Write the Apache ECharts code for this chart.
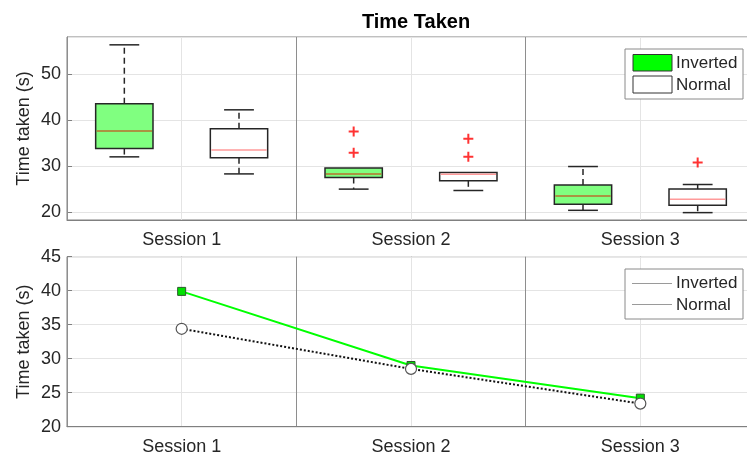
<!DOCTYPE html>
<html>
<head>
<meta charset="utf-8">
<script src="https://cdn.jsdelivr.net/npm/echarts@6/dist/echarts.min.js"></script>
<style>
  html, body { margin: 0; padding: 0; background: #fff; overflow: hidden; }
  #chart { width: 755px; height: 459px; }
</style>
</head>
<body>
<div id="chart"></div>
<script>
// ---------- data ----------
const sessions = ['Session 1', 'Session 2', 'Session 3'];
const boxSlots = ['S1 Inverted', 'S1 Normal', 'S2 Inverted', 'S2 Normal', 'S3 Inverted', 'S3 Normal'];
// [min, q1, median, q3, max]
const invertedBox = [
  [32.0, 33.8, 37.6, 43.5, 56.3],
  [25.0, 27.5, 28.3, 29.6, 29.6],
  [20.4, 21.7, 23.5, 25.9, 29.9]
];
const normalBox = [
  [28.3, 31.8, 33.5, 38.1, 42.2],
  [24.7, 26.8, 28.2, 28.6, 28.6],
  [19.9, 21.5, 22.8, 25.0, 26.0]
];
const invertedOutliers = [[], [37.5, 32.9], []];
const normalOutliers = [[], [35.9, 32.0], [30.8]];
const invertedMean = [39.9, 29.0, 24.2];
const normalMean = [34.4, 28.5, 23.4];
const legendNames = ['Inverted', 'Normal'];
const yName = 'Time taken (s)';
const titleText = 'Time Taken';

// ---------- styling ----------
const FONT = "'Liberation Sans', Arial, Helvetica, sans-serif";
const TXT = '#262626';
const AX = '#808080';
const GRIDC = '#e4e4e4';
const DARKV = '#8e8e8e';

function boxRenderer(fill, medianColor) {
  return function (params, api) {
    const x = api.value(0);
    const c = v => api.coord([x, v]);
    const pMin = c(api.value(1)), pQ1 = c(api.value(2)), pMed = c(api.value(3)),
          pQ3 = c(api.value(4)), pMax = c(api.value(5));
    const band = api.size([1, 0])[0];
    const hw = band * 0.25, cap = band * 0.13;
    const cx = pMed[0];
    const stroke = '#262626';
    const ch = [];
    const hasUpper = Math.abs(pMax[1] - pQ3[1]) > 0.5;
    if (hasUpper) {
      ch.push({ type: 'line', shape: { x1: cx, y1: pQ3[1], x2: cx, y2: pMax[1] },
        style: { stroke, lineWidth: 1.5, lineDash: [6, 4] } });
      ch.push({ type: 'line', shape: { x1: cx - cap, y1: pMax[1], x2: cx + cap, y2: pMax[1] },
        style: { stroke, lineWidth: 1.5 } });
    }
    ch.push({ type: 'line', shape: { x1: cx, y1: pQ1[1], x2: cx, y2: pMin[1] },
      style: { stroke, lineWidth: 1.5, lineDash: [6, 4] } });
    ch.push({ type: 'line', shape: { x1: cx - cap, y1: pMin[1], x2: cx + cap, y2: pMin[1] },
      style: { stroke, lineWidth: 1.5 } });
    ch.push({ type: 'rect', shape: { x: cx - hw, y: pQ3[1], width: 2 * hw, height: pQ1[1] - pQ3[1] },
      style: { fill, stroke, lineWidth: 1.5 } });
    ch.push({ type: 'line', shape: { x1: cx - hw + 1, y1: pMed[1], x2: cx + hw - 1, y2: pMed[1] },
      style: { stroke: medianColor, lineWidth: 1.5 } });
    return { type: 'group', children: ch };
  };
}

const invBoxData = invertedBox.map((b, i) => [2 * i].concat(b));
const normBoxData = normalBox.map((b, i) => [2 * i + 1].concat(b));
const outlierData = [];
invertedOutliers.forEach((arr, i) => arr.forEach(v => outlierData.push([2 * i, v])));
normalOutliers.forEach((arr, i) => arr.forEach(v => outlierData.push([2 * i + 1, v])));

const plusPath = 'path://M4,0h2v4h4v2h-4v4h-2v-4h-4v-2h4z';

function gridAxes(gridIndex, showLabels) {
  return [
    { // 6-slot axis: axis line + vertical grid lines
      type: 'category', gridIndex, position: 'bottom', data: boxSlots,
      boundaryGap: true,
      axisLine: { show: true, lineStyle: { color: AX, width: 1 } },
      axisTick: { show: false }, axisLabel: { show: false },
      splitLine: { show: true, lineStyle: { color: [DARKV, GRIDC], width: 1 } },
      z: 1
    },
    { // session labels
      type: 'category', gridIndex, position: 'bottom', data: sessions,
      boundaryGap: true,
      axisLine: { show: false },
      axisTick: { show: true, inside: true, alignWithLabel: true, length: 5, lineStyle: { color: AX } },
      axisLabel: { show: showLabels, fontSize: 18, color: TXT, fontFamily: FONT, margin: 11 },
      splitLine: { show: false }
    },
    { // top ticks
      type: 'category', gridIndex, position: 'top', data: sessions,
      boundaryGap: true,
      axisLine: { show: false },
      axisTick: { show: true, inside: true, alignWithLabel: true, length: 5, lineStyle: { color: AX } },
      axisLabel: { show: false },
      splitLine: { show: false }
    }
  ];
}

function yAxisFor(gridIndex, min, max, interval) {
  const o = {
    type: 'value', gridIndex, min, max,
    name: yName, nameLocation: 'middle', nameGap: 34, nameMoveOverlap: false,
    nameTextStyle: { fontSize: 18, color: TXT, fontFamily: FONT },
    axisLine: { show: true, lineStyle: { color: AX } },
    axisTick: { show: true, inside: true, length: 5, lineStyle: { color: AX } },
    axisLabel: { fontSize: 18, color: TXT, fontFamily: FONT, margin: 6, showMinLabel: false, showMaxLabel: false },
    splitLine: { show: true, lineStyle: { color: GRIDC } }
  };
  if (interval) {
    o.interval = interval;
    o.axisLabel.showMinLabel = true;
    o.axisLabel.showMaxLabel = true;
  }
  return o;
}

const chart = echarts.init(document.getElementById('chart'), null, { renderer: 'canvas' });

const option = {
  animation: false,
  backgroundColor: '#ffffff',
  title: {
    text: titleText, left: 411, top: 7, textAlign: 'center',
    textStyle: { fontSize: 20, fontWeight: 'bold', color: '#000', fontFamily: FONT }
  },
  grid: [
    { left: 67, right: 0, top: 37, height: 183, show: true, borderColor: AX, borderWidth: 1, backgroundColor: '#fff' },
    { left: 67, right: 0, top: 256.7, height: 170, show: true, borderColor: AX, borderWidth: 1, backgroundColor: '#fff' }
  ],
  xAxis: gridAxes(0, true).concat(gridAxes(1, true)),
  yAxis: [
    yAxisFor(0, 18.3, 58, null),
    yAxisFor(1, 20, 45, 5)
  ],
  series: [
    {
      type: 'custom', name: legendNames[0], xAxisIndex: 0, yAxisIndex: 0,
      renderItem: boxRenderer('#80ff80', '#b8702e'),
      encode: { x: 0, y: [1, 2, 3, 4, 5] },
      data: invBoxData, z: 3
    },
    {
      type: 'custom', name: legendNames[1], xAxisIndex: 0, yAxisIndex: 0,
      renderItem: boxRenderer('#ffffff', '#ff9a9a'),
      encode: { x: 0, y: [1, 2, 3, 4, 5] },
      data: normBoxData, z: 3
    },
    {
      type: 'scatter', xAxisIndex: 0, yAxisIndex: 0,
      symbol: plusPath, symbolSize: 10,
      itemStyle: { color: '#ff0000' },
      data: outlierData, z: 4
    },
    {
      type: 'line', name: legendNames[0], xAxisIndex: 4, yAxisIndex: 1,
      data: invertedMean,
      lineStyle: { color: '#00ff00', width: 2 },
      symbol: 'rect', symbolSize: 8,
      itemStyle: { color: '#00e000', borderColor: '#2a5a2a', borderWidth: 1 },
      z: 3
    },
    {
      type: 'line', name: legendNames[1], xAxisIndex: 4, yAxisIndex: 1,
      data: normalMean,
      lineStyle: { color: '#111', width: 2, type: [2, 2] },
      symbol: 'circle', symbolSize: 11,
      itemStyle: { color: '#ffffff', borderColor: '#555', borderWidth: 1.2 },
      z: 4
    }
  ],
  graphic: [
    // top legend
    { type: 'rect', shape: { x: 625, y: 49, width: 118, height: 50 }, style: { fill: '#fff', stroke: '#8a8a8a', lineWidth: 1 }, z: 100 },
    { type: 'rect', shape: { x: 633, y: 54.5, width: 39, height: 16.5 }, style: { fill: '#00ff00', stroke: '#333', lineWidth: 1 }, z: 101 },
    { type: 'rect', shape: { x: 633, y: 76, width: 39, height: 17 }, style: { fill: '#fff', stroke: '#333', lineWidth: 1 }, z: 101 },
    { type: 'text', x: 676, y: 63.5, style: { text: legendNames[0], fontSize: 17, fontFamily: FONT, fill: TXT, verticalAlign: 'middle' }, z: 101 },
    { type: 'text', x: 676, y: 85, style: { text: legendNames[1], fontSize: 17, fontFamily: FONT, fill: TXT, verticalAlign: 'middle' }, z: 101 },
    // bottom legend
    { type: 'rect', shape: { x: 625, y: 269, width: 118, height: 50 }, style: { fill: '#fff', stroke: '#8a8a8a', lineWidth: 1 }, z: 100 },
    { type: 'line', shape: { x1: 632, y1: 283.5, x2: 672, y2: 283.5 }, style: { stroke: '#9a9a9a', lineWidth: 1 }, z: 101 },
    { type: 'line', shape: { x1: 632, y1: 304.5, x2: 672, y2: 304.5 }, style: { stroke: '#9a9a9a', lineWidth: 1 }, z: 101 },
    { type: 'text', x: 676, y: 283.5, style: { text: legendNames[0], fontSize: 17, fontFamily: FONT, fill: TXT, verticalAlign: 'middle' }, z: 101 },
    { type: 'text', x: 676, y: 305, style: { text: legendNames[1], fontSize: 17, fontFamily: FONT, fill: TXT, verticalAlign: 'middle' }, z: 101 }
  ]
};
chart.setOption(option);
</script>
</body>
</html>
